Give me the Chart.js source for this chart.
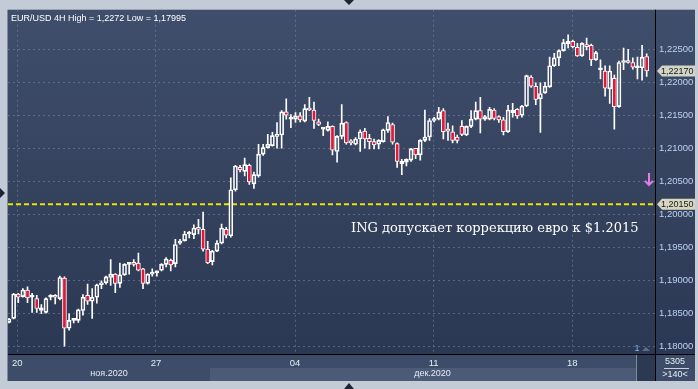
<!DOCTYPE html>
<html lang="ru">
<head>
<meta charset="UTF-8">
<title>EUR/USD 4H</title>
<script src="https://cdn.jsdelivr.net/npm/chart.js"></script>
<style>
  html, body { margin: 0; padding: 0; background: #c3cbd6; overflow: hidden; }
  canvas { display: block; }
</style>
</head>
<body>
<canvas id="eurusd" width="698" height="389"></canvas>
<script>
// 4H candles (index 0 = first visible bar)
const opens = [
  1.1836, 1.1842, 1.1879, 1.1875, 1.1885, 1.1874, 1.1872, 1.1854, 1.1851, 1.1874,
  1.1875, 1.1872, 1.1903, 1.1827, 1.1839, 1.1839, 1.1854, 1.1877, 1.1868, 1.1874,
  1.1893, 1.1896, 1.1904, 1.1909, 1.1895, 1.1908, 1.1924, 1.1925, 1.1926, 1.1917,
  1.1895, 1.1909, 1.1911, 1.1915, 1.1924, 1.1930, 1.1925, 1.1956, 1.1960, 1.1970,
  1.1969, 1.1978, 1.1977, 1.1947, 1.1928, 1.1944, 1.1956, 1.1977, 1.1967, 1.2037,
  1.2071, 1.2065, 1.2074, 1.2046, 1.2058, 1.2091, 1.2101, 1.2104, 1.2118, 1.2120,
  1.2155, 1.2144, 1.2144, 1.2149, 1.2141, 1.2161, 1.2158, 1.2140, 1.2129, 1.2127,
  1.2133, 1.2095, 1.2118, 1.2139, 1.2110, 1.2106, 1.2114, 1.2126, 1.2115, 1.2110,
  1.2106, 1.2110, 1.2127, 1.2136, 1.2107, 1.2076, 1.2079, 1.2082, 1.2100, 1.2090,
  1.2112, 1.2117, 1.2142, 1.2144, 1.2157, 1.2127, 1.2125, 1.2117, 1.2133, 1.2120,
  1.2133, 1.2144, 1.2157, 1.2144, 1.2144, 1.2158, 1.2148, 1.2143, 1.2125, 1.2154,
  1.2159, 1.2150, 1.2164, 1.2208, 1.2194, 1.2175, 1.2184, 1.2193, 1.2225, 1.2237,
  1.2248, 1.2258, 1.2262, 1.2253, 1.2240, 1.2256, 1.2256, 1.2234, 1.2219, 1.2217,
  1.2190, 1.2206, 1.2163, 1.2230, 1.2231, 1.2230, 1.2222, 1.2222, 1.2239
];
const highs = [
  1.1842, 1.1880, 1.1880, 1.1887, 1.1890, 1.1880, 1.1877, 1.1863, 1.1873, 1.1878,
  1.1878, 1.1906, 1.1905, 1.1849, 1.1842, 1.1856, 1.1878, 1.1894, 1.1887, 1.1894,
  1.1899, 1.1906, 1.1931, 1.1910, 1.1926, 1.1925, 1.1926, 1.1931, 1.1941, 1.1918,
  1.1910, 1.1917, 1.1914, 1.1925, 1.1934, 1.1932, 1.1962, 1.1962, 1.1974, 1.1974,
  1.1984, 1.1992, 1.2003, 1.1959, 1.1945, 1.1960, 1.1985, 1.1980, 1.2055, 1.2074,
  1.2074, 1.2085, 1.2076, 1.2064, 1.2106, 1.2106, 1.2121, 1.2124, 1.2139, 1.2157,
  1.2175, 1.2151, 1.2154, 1.2154, 1.2166, 1.2177, 1.2170, 1.2144, 1.2131, 1.2140,
  1.2134, 1.2119, 1.2166, 1.2140, 1.2113, 1.2116, 1.2128, 1.2130, 1.2121, 1.2114,
  1.2113, 1.2129, 1.2148, 1.2138, 1.2108, 1.2083, 1.2084, 1.2100, 1.2100, 1.2113,
  1.2158, 1.2145, 1.2147, 1.2162, 1.2160, 1.2138, 1.2134, 1.2120, 1.2142, 1.2134,
  1.2157, 1.2170, 1.2177, 1.2150, 1.2162, 1.2160, 1.2149, 1.2147, 1.2165, 1.2168,
  1.2160, 1.2165, 1.2211, 1.2210, 1.2199, 1.2199, 1.2200, 1.2238, 1.2244, 1.2249,
  1.2265, 1.2272, 1.2264, 1.2259, 1.2260, 1.2267, 1.2258, 1.2247, 1.2234, 1.2225,
  1.2225, 1.2211, 1.2232, 1.2252, 1.2250, 1.2237, 1.2238, 1.2256, 1.2243
];
const lows = [
  1.1835, 1.1841, 1.1866, 1.1874, 1.1866, 1.1851, 1.1851, 1.1849, 1.1850, 1.1870,
  1.1864, 1.1870, 1.1800, 1.1824, 1.1835, 1.1836, 1.1847, 1.1863, 1.1842, 1.1865,
  1.1887, 1.1894, 1.1892, 1.1881, 1.1889, 1.1907, 1.1909, 1.1921, 1.1914, 1.1887,
  1.1894, 1.1906, 1.1906, 1.1914, 1.1920, 1.1914, 1.1920, 1.1954, 1.1959, 1.1964,
  1.1963, 1.1970, 1.1944, 1.1925, 1.1923, 1.1943, 1.1955, 1.1964, 1.1965, 1.2035,
  1.2064, 1.2058, 1.2045, 1.2039, 1.2056, 1.2089, 1.2100, 1.2103, 1.2100, 1.2100,
  1.2144, 1.2131, 1.2139, 1.2140, 1.2140, 1.2157, 1.2130, 1.2134, 1.2119, 1.2126,
  1.2090, 1.2079, 1.2114, 1.2106, 1.2105, 1.2105, 1.2095, 1.2100, 1.2099, 1.2099,
  1.2099, 1.2109, 1.2124, 1.2106, 1.2071, 1.2060, 1.2073, 1.2080, 1.2084, 1.2082,
  1.2110, 1.2112, 1.2140, 1.2143, 1.2114, 1.2112, 1.2108, 1.2108, 1.2119, 1.2119,
  1.2131, 1.2143, 1.2123, 1.2142, 1.2143, 1.2143, 1.2139, 1.2120, 1.2124, 1.2147,
  1.2145, 1.2147, 1.2163, 1.2192, 1.2166, 1.2124, 1.2183, 1.2192, 1.2224, 1.2225,
  1.2247, 1.2252, 1.2252, 1.2239, 1.2239, 1.2249, 1.2225, 1.2233, 1.2205, 1.2179,
  1.2168, 1.2129, 1.2162, 1.2219, 1.2229, 1.2220, 1.2205, 1.2203, 1.2209
];
const closes = [
  1.1841, 1.1879, 1.1874, 1.1885, 1.1873, 1.1875, 1.1857, 1.1858, 1.1872, 1.1875,
  1.1874, 1.1904, 1.1827, 1.1839, 1.1840, 1.1855, 1.1874, 1.1868, 1.1874, 1.1893,
  1.1896, 1.1905, 1.1909, 1.1895, 1.1908, 1.1924, 1.1925, 1.1924, 1.1915, 1.1895,
  1.1909, 1.1911, 1.1912, 1.1924, 1.1932, 1.1923, 1.1954, 1.1958, 1.1970, 1.1971,
  1.1979, 1.1977, 1.1947, 1.1926, 1.1944, 1.1956, 1.1979, 1.1968, 1.2037, 1.2073,
  1.2067, 1.2075, 1.2049, 1.2060, 1.2091, 1.2101, 1.2106, 1.2119, 1.2121, 1.2155,
  1.2150, 1.2145, 1.2149, 1.2143, 1.2160, 1.2158, 1.2142, 1.2136, 1.2130, 1.2133,
  1.2097, 1.2118, 1.2138, 1.2108, 1.2108, 1.2114, 1.2125, 1.2114, 1.2110, 1.2105,
  1.2112, 1.2128, 1.2139, 1.2109, 1.2080, 1.2080, 1.2083, 1.2099, 1.2090, 1.2112,
  1.2117, 1.2142, 1.2144, 1.2155, 1.2125, 1.2126, 1.2112, 1.2112, 1.2121, 1.2133,
  1.2144, 1.2157, 1.2144, 1.2148, 1.2159, 1.2145, 1.2143, 1.2125, 1.2158, 1.2158,
  1.2149, 1.2164, 1.2210, 1.2194, 1.2174, 1.2183, 1.2194, 1.2225, 1.2237, 1.2248,
  1.2260, 1.2262, 1.2254, 1.2240, 1.2259, 1.2254, 1.2234, 1.2245, 1.2220, 1.2191,
  1.2217, 1.2163, 1.2230, 1.2232, 1.2230, 1.2223, 1.2223, 1.2238, 1.2217
];

// axis labels
const priceTicks = [1.180, 1.185, 1.190, 1.195, 1.200, 1.205, 1.210, 1.215, 1.220, 1.225];
const weekTicks = [1.8, 31.8, 61.9, 91.9, 121.9];
const weekLabels = ['20', '27', '04', '11', '18'];
const monthLabels = ['ноя.2020', 'дек.2020'];
const monthStarts = [-0.2, 43.5];

const titleText = 'EUR/USD 4H High = 1,2272 Low = 1,17995';
const newsText = 'ING допускает коррекцию евро к $1.2015';
const ingLevel = 1.2015;
const alertArrow = { x: 138.5, y: 1.2052 };

const xMin = -0.22, xMax = 139.8;
const yMin = 1.1788, yMax = 1.2310;

const fmt = v => v.toFixed(5).replace('.', ',');
const idx = opens.map((_, i) => i);

// little pink down arrow used as a point style
const arrowImg = document.createElement('canvas');
arrowImg.width = 10; arrowImg.height = 14;
(function () {
  const c = arrowImg.getContext('2d');
  c.strokeStyle = '#e47ce6';
  c.lineWidth = 2;
  c.beginPath();
  c.moveTo(5, 0); c.lineTo(5, 12);
  c.moveTo(1, 8); c.lineTo(5, 12); c.lineTo(9, 8);
  c.stroke();
})();

function priceTag(ctx, left, y, text, fill) {
  ctx.fillStyle = fill;
  ctx.beginPath();
  ctx.moveTo(left, y);
  ctx.lineTo(left + 5, y - 5.5);
  ctx.lineTo(left + 38, y - 5.5);
  ctx.lineTo(left + 38, y + 5.5);
  ctx.lineTo(left + 5, y + 5.5);
  ctx.closePath();
  ctx.fill();
  ctx.fillStyle = '#15181f';
  ctx.textAlign = 'left';
  ctx.textBaseline = 'middle';
  ctx.fillText(text, left + 4, y + 0.5);
}

const chrome = {
  id: 'chrome',
  beforeDraw(chart) {
    const { ctx, chartArea: a, width, height } = chart;
    const xs = chart.scales.x;
    const panelRight = width - 3;
    const bandBottom = a.bottom + 27;
    ctx.save();
    ctx.fillStyle = '#c3cbd6';
    ctx.fillRect(0, 0, width, height);

    const g = ctx.createLinearGradient(0, a.top, 0, a.bottom);
    g.addColorStop(0, '#3f4e6b');
    g.addColorStop(1, '#2b3853');
    ctx.fillStyle = g;
    ctx.fillRect(a.left, a.top, panelRight - a.left, a.bottom - a.top);

    ctx.fillStyle = '#3d4c68';
    ctx.fillRect(a.left, a.bottom, panelRight - a.left, 27);
    const dec = xs.getPixelForValue(monthStarts[1]);
    ctx.fillStyle = '#4b5b77';
    ctx.fillRect(dec, a.bottom + 14, a.right - 19 - dec, 13);
    ctx.fillStyle = '#2c3953';
    ctx.fillRect(a.right - 19, a.bottom, 19, 27);
    ctx.fillStyle = '#7d8aa0';
    ctx.fillRect(a.right - 19, a.bottom + 1, 1, 26);

    ctx.fillStyle = '#7f8ba0';
    ctx.fillRect(a.left - 1, a.top, 1, bandBottom - a.top);

    // small frame arrows
    ctx.fillStyle = '#1d2434';
    ctx.beginPath();
    ctx.moveTo(344, 0); ctx.lineTo(354, 0); ctx.lineTo(349, 5); ctx.closePath();
    ctx.moveTo(344, height); ctx.lineTo(354, height); ctx.lineTo(349, height - 6); ctx.closePath();
    ctx.moveTo(0, 188); ctx.lineTo(0, 198); ctx.lineTo(5, 193); ctx.closePath();
    ctx.fill();
    ctx.restore();
  },
  afterDraw(chart) {
    const { ctx, chartArea: a, width } = chart;
    const xs = chart.scales.x, ys = chart.scales.y;
    const panelRight = width - 3;
    ctx.save();
    ctx.fillStyle = '#000';
    ctx.fillRect(a.right, a.top, 1, a.bottom + 27 - a.top);
    ctx.fillRect(a.left, a.bottom, panelRight - a.left, 1);

    ctx.font = '9px "Liberation Sans", Arial, sans-serif';
    ctx.textBaseline = 'middle';
    ctx.textAlign = 'center';
    ctx.fillStyle = '#e6ecf5';
    const ends = monthStarts.slice(1).concat([xMax]);
    monthLabels.forEach((m, i) => {
      const x0 = Math.max(a.left, xs.getPixelForValue(monthStarts[i]));
      const x1 = Math.min(a.right, xs.getPixelForValue(ends[i]));
      ctx.fillText(m, (x0 + x1) / 2, a.bottom + 20);
    });

    ctx.fillText('5305', (a.right + panelRight) / 2, a.bottom + 8);
    ctx.fillText('>140<', (a.right + panelRight) / 2, a.bottom + 21);
    ctx.fillStyle = '#c8d0dc';
    ctx.fillRect(a.right + 9, a.bottom + 14, 25, 1);

    ctx.fillStyle = '#8cb4ec';
    ctx.fillText('1', a.right - 18, a.bottom - 5);
    ctx.fillStyle = '#5f6c84';
    ctx.beginPath();
    ctx.moveTo(a.right - 13, a.bottom - 3); ctx.lineTo(a.right - 5, a.bottom - 3);
    ctx.lineTo(a.right - 9, a.bottom - 7); ctx.closePath(); ctx.fill();

    ctx.textAlign = 'left';
    ctx.fillStyle = '#ffffff';
    ctx.fillText(titleText, a.left + 3, a.top + 9);

    ctx.font = '13px "DejaVu Serif", serif';
    ctx.fillText(newsText, 351, 229);

    ctx.font = '9px "Liberation Sans", Arial, sans-serif';
    priceTag(ctx, a.right + 2, ys.getPixelForValue(closes[closes.length - 1]), fmt(closes[closes.length - 1]), '#d3d3c6');
    priceTag(ctx, a.right + 2, ys.getPixelForValue(ingLevel), fmt(ingLevel), '#d8d6bf');
    ctx.restore();
  }
};

const ctx = document.getElementById('eurusd').getContext('2d');
new Chart(ctx, {
  type: 'bar',
  data: {
    datasets: [
      {
        label: 'upper wick',
        data: idx.map(i => ({ x: i, y: [Math.max(opens[i], closes[i]), highs[i]] })),
        backgroundColor: '#ffffff',
        barThickness: 1,
        grouped: false,
        order: 3
      },
      {
        label: 'lower wick',
        data: idx.map(i => ({ x: i, y: [lows[i], Math.min(opens[i], closes[i])] })),
        backgroundColor: '#ffffff',
        barThickness: 1,
        grouped: false,
        order: 3
      },
      {
        label: 'body',
        data: idx.map(i => ({ x: i, y: [opens[i], closes[i]] })),
        backgroundColor: idx.map(i => closes[i] < opens[i] ? '#e3173a' : 'rgba(0,0,0,0)'),
        borderColor: '#ffffff',
        borderWidth: 1,
        borderSkipped: false,
        barThickness: 4,
        minBarLength: 2,
        grouped: false,
        order: 1
      },
      {
        type: 'line',
        label: 'ING level',
        data: [{ x: xMin, y: ingLevel }, { x: xMax, y: ingLevel }],
        borderColor: '#e9e400',
        borderWidth: 2,
        borderDash: [5, 3],
        pointRadius: 0,
        order: 4
      },
      {
        type: 'scatter',
        label: 'alert',
        data: [alertArrow],
        pointStyle: arrowImg,
        pointRadius: 6,
        order: 0
      }
    ]
  },
  options: {
    responsive: false,
    animation: false,
    devicePixelRatio: 1,
    layout: { padding: { left: 8, top: 6, right: 3, bottom: 8 } },
    plugins: { legend: { display: false }, tooltip: { enabled: false } },
    scales: {
      x: {
        type: 'linear',
        offset: false,
        min: xMin,
        max: xMax,
        afterBuildTicks: s => { s.ticks = weekTicks.map(v => ({ value: v })); },
        afterFit: s => { s.height = 27; },
        grid: { color: 'rgba(120,138,168,0.55)', drawTicks: false, offset: false },
        border: { display: false, dash: [2, 3] },
        ticks: {
          autoSkip: false,
          maxRotation: 0,
          padding: 4,
          color: '#e6ecf5',
          font: { family: '"Liberation Sans", Arial, sans-serif', size: 9.5 },
          callback: (v, i) => weekLabels[i]
        }
      },
      y: {
        position: 'right',
        min: yMin,
        max: yMax,
        afterBuildTicks: s => { s.ticks = priceTicks.map(v => ({ value: v })); },
        afterFit: s => { s.width = 40; },
        grid: { color: 'rgba(120,138,168,0.55)', drawTicks: false },
        border: { display: false, dash: [2, 3] },
        ticks: {
          padding: 4,
          color: '#bcd2f0',
          font: { family: '"Liberation Sans", Arial, sans-serif', size: 9.5 },
          callback: v => fmt(v)
        }
      }
    }
  },
  plugins: [chrome]
});
</script>
</body>
</html>
